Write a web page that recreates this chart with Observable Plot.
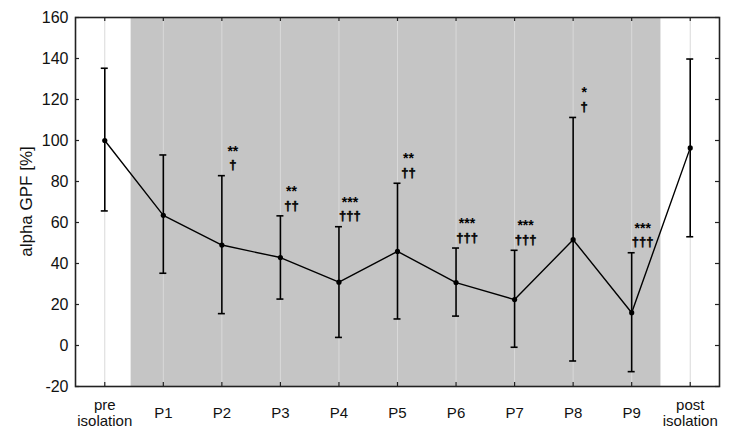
<!DOCTYPE html>
<html>
<head>
<meta charset="utf-8">
<script src="https://cdn.jsdelivr.net/npm/d3@7"></script>
<script src="https://cdn.jsdelivr.net/npm/@observablehq/plot@0.6"></script>
<style>
  html, body { margin: 0; padding: 0; background: #fff; }
  svg { font-family: Arial, "Liberation Sans", sans-serif; }
</style>
</head>
<body>
<div id="chart"></div>
<script>
const categories = ["pre\nisolation", "P1", "P2", "P3", "P4", "P5", "P6", "P7", "P8", "P9", "post\nisolation"];
const means = [100, 63.5, 49, 42.9, 30.9, 45.9, 30.7, 22.4, 51.6, 16, 96.4];
const upper = [135, 92.7, 82.6, 63, 57.7, 78.9, 47.3, 46.2, 111, 45, 139.5];
const lower = [65.4, 35, 15.3, 22.4, 3.7, 12.7, 14.1, -1.1, -7.8, -13, 52.8];
const stars = ["", "", "**", "**", "***", "**", "***", "***", "*", "***", ""];
const daggers = ["", "", "\u2020", "\u2020\u2020", "\u2020\u2020\u2020", "\u2020\u2020", "\u2020\u2020\u2020", "\u2020\u2020\u2020", "\u2020", "\u2020\u2020\u2020", ""];
const yTicks = [-20, 0, 20, 40, 60, 80, 100, 120, 140, 160];
const shadedStart = 0.45;   // isolation period start (between pre and P1)
const shadedEnd = 9.5;      // isolation period end (between P9 and post)

const data = categories.map((c, i) => ({
  i, label: c, mean: means[i], hi: upper[i], lo: lower[i], star: stars[i], dag: daggers[i]
}));
const idx = data.map(d => d.i);

const W = 744, H = 444;
const mL = 75, mR = 25, mT = 17, mB = 58;
const innerW = W - mL - mR, innerH = H - mT - mB;

const chart = Plot.plot({
  width: W,
  height: H,
  marginLeft: mL,
  marginRight: mR,
  marginTop: mT,
  marginBottom: mB,
  style: {fontFamily: "Arial, 'Liberation Sans', sans-serif", fontSize: "15px", background: "#fff"},
  x: {domain: [-0.5, 10.5], axis: null},
  y: {domain: [-20, 160], axis: null},
  marks: [
    Plot.rectY([{x1: shadedStart, x2: shadedEnd}], {x1: "x1", x2: "x2", y1: -20, y2: 160, fill: "#c5c5c5"}),
    Plot.ruleX(idx, {x: d => d, stroke: "#d9d9d9", strokeWidth: 1}),
    // error bars
    Plot.ruleX(data, {x: "i", y1: "lo", y2: "hi", stroke: "#000", strokeWidth: 1.6}),
    Plot.line(data, {x: "i", y: "mean", stroke: "#000", strokeWidth: 1.4}),
    Plot.dot(data, {x: "i", y: "mean", r: 2.6, fill: "#000", stroke: "none"}),
    // significance annotations
    Plot.text(data, {x: "i", y: "hi", text: "star", dx: 11, dy: -25, fontSize: 14, fontWeight: "bold", fill: "#000"}),
    Plot.text(data, {x: "i", y: "hi", text: "dag", dx: 11, dy: -11, fontSize: 13, fontWeight: "bold", fill: "#000", stroke: "#000", strokeWidth: 0.5}),
    // axis tick labels
    Plot.text(yTicks, {x: -0.5, y: d => d, text: d => String(d), textAnchor: "end", dx: -7, fontSize: 16, fill: "#111"}),
    Plot.text(data, {x: "i", y: -20, text: "label", dy: 26, lineAnchor: "middle", lineHeight: 1.1, fontSize: 15, fill: "#111"}),
    // small ticks on all four sides (inside the frame)
    Plot.tickY(yTicks, {y: d => d, insetRight: innerW - 4, stroke: "#222", strokeWidth: 1.2}),
    Plot.tickY(yTicks, {y: d => d, insetLeft: innerW - 4, stroke: "#222", strokeWidth: 1.2}),
    Plot.tickX(idx, {x: d => d, insetTop: innerH - 4, stroke: "#222", strokeWidth: 1.2}),
    Plot.tickX(idx, {x: d => d, insetBottom: innerH - 4, stroke: "#222", strokeWidth: 1.2}),
    Plot.frame({stroke: "#222", strokeWidth: 1.6})
  ]
});

const xs = chart.scale("x"), ys = chart.scale("y");
document.getElementById("chart").appendChild(chart);

const svg = d3.select(chart);
// error-bar caps positioned through the plot's scales
const capW = 3.5;
const capG = svg.append("g").attr("stroke", "#000").attr("stroke-width", 1.6);
data.forEach(d => {
  [d.hi, d.lo].forEach(v => {
    capG.append("line")
      .attr("x1", xs.apply(d.i) - capW).attr("x2", xs.apply(d.i) + capW)
      .attr("y1", ys.apply(v)).attr("y2", ys.apply(v));
  });
});

// y axis title
svg.append("text")
  .attr("transform", `translate(28,${(mT + H - mB) / 2}) rotate(-90)`)
  .attr("text-anchor", "middle")
  .attr("dominant-baseline", "middle")
  .attr("font-size", 17)
  .attr("fill", "#111")
  .text("alpha GPF [%]");
</script>
</body>
</html>
